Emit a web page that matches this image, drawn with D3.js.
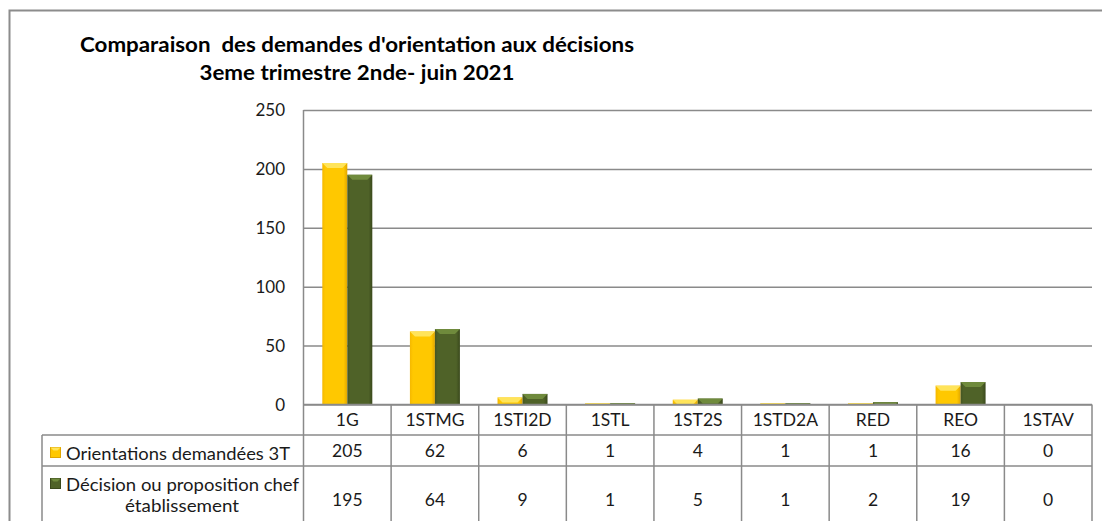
<!DOCTYPE html>
<html>
<head>
<meta charset="utf-8">
<script src="https://cdn.jsdelivr.net/npm/d3@7"></script>
<style>
  body { margin: 0; background: #fff; }
  svg { display: block; font-family: Lato, 'Open Sans', sans-serif; }
  .title { white-space: pre; }
</style>
</head>
<body>
<svg id="chart" width="1102" height="521"></svg>
<script>
const categories = ['1G', '1STMG', '1STI2D', '1STL', '1ST2S', '1STD2A', 'RED', 'REO', '1STAV'];
const seriesNames = ['Orientations demandées 3T', 'Décision ou proposition chef établissement'];
const demandes = [205, 62, 6, 1, 4, 1, 1, 16, 0];
const decisions = [195, 64, 9, 1, 5, 1, 2, 19, 0];
const yTicks = [0, 50, 100, 150, 200, 250];
const titleLines = ["Comparaison  des demandes d'orientation aux décisions", '3eme trimestre 2nde- juin 2021'];

const svg = d3.select('#chart');
const gridColor = '#8a8a8a';
const textColor = '#1a1a1a';

// plot area
const plotLeft = 303.5, plotRight = 1092, plotTop = 110, plotZero = 404.5;
const tableLeft = 42;
const rowLines = [435, 466];

const palette = [
  { face: '#ffc800', light: '#ffe45a', dark: '#e0a600', edge: '#f5b800' },
  { face: '#4f6228', light: '#6f8a3c', dark: '#3a491c', edge: '#445522' }
];

// outer frame
svg.append('rect')
  .attr('x', 9.5).attr('y', 10.5)
  .attr('width', 1120).attr('height', 600)
  .attr('fill', 'none').attr('stroke', '#8c8c8c').attr('stroke-width', 2);

// title
const titleWidths = [554, 315];
svg.append('text')
  .attr('class', 'title')
  .attr('text-anchor', 'middle')
  .attr('font-size', 20).attr('font-weight', 'bold').attr('fill', '#000')
  .selectAll('tspan').data(titleLines).enter().append('tspan')
  .attr('x', 357).attr('y', (d, i) => i === 0 ? 52 : 80)
  .attr('textLength', (d, i) => titleWidths[i])
  .attr('lengthAdjust', 'spacingAndGlyphs')
  .text(d => d);

const x = d3.scaleBand().domain(categories).range([plotLeft, plotRight]);
const y = d3.scaleLinear().domain([0, 250]).range([plotZero, plotTop]);
const inner = d3.scaleBand().domain([0, 1]).range([0, 50]);

// gridlines
svg.append('g')
  .attr('transform', `translate(${plotLeft},0)`)
  .call(d3.axisLeft(y).tickValues(yTicks).tickSize(-(plotRight - plotLeft)).tickFormat(''))
  .call(g => g.select('.domain').remove())
  .selectAll('line').attr('stroke', gridColor).attr('stroke-width', 1.5);

// y tick labels
svg.append('g').selectAll('text').data(yTicks).enter().append('text')
  .attr('x', 285).attr('y', d => y(d) + 6)
  .attr('text-anchor', 'end')
  .attr('font-size', 17).attr('fill', textColor)
  .text(d => d);

// gradients for the bevelled bars
const defs = svg.append('defs');
palette.forEach((p, i) => {
  const grad = defs.append('linearGradient').attr('id', 'face' + i)
    .attr('x1', 0).attr('x2', 1).attr('y1', 0).attr('y2', 0);
  grad.append('stop').attr('offset', '0%').attr('stop-color', p.edge);
  grad.append('stop').attr('offset', '12%').attr('stop-color', p.face);
  grad.append('stop').attr('offset', '85%').attr('stop-color', p.face);
  grad.append('stop').attr('offset', '100%').attr('stop-color', p.dark);
});

const series = [demandes, decisions];
series.forEach((vals, s) => {
  const p = palette[s];
  const g = svg.append('g');
  const bars = g.selectAll('g').data(vals.map((v, i) => ({ v, c: categories[i] })))
    .enter().append('g')
    .filter(d => d.v > 0);
  const bx = d => x(d.c) + (x.bandwidth() - 50) / 2 + inner(s);
  const bw = inner.bandwidth();
  bars.append('rect')
    .attr('x', bx).attr('y', d => y(d.v))
    .attr('width', bw).attr('height', d => plotZero - y(d.v))
    .attr('fill', `url(#face${s})`);
  // top bevel
  bars.append('path')
    .attr('d', d => {
      const x0 = bx(d), y0 = y(d.v);
      const h = Math.min(5, plotZero - y0);
      return `M${x0},${y0}L${x0 + bw},${y0}L${x0 + bw - h},${y0 + h}L${x0 + h},${y0 + h}Z`;
    })
    .attr('fill', p.light);
});

// data table lines
const lines = svg.append('g').attr('stroke', gridColor).attr('stroke-width', 1.5);
lines.append('line').attr('x1', plotLeft).attr('x2', plotLeft).attr('y1', plotTop).attr('y2', 521);
lines.selectAll('line.col').data(categories).enter().append('line')
  .attr('class', 'col')
  .attr('x1', d => x(d) + x.bandwidth()).attr('x2', d => x(d) + x.bandwidth())
  .attr('y1', plotZero).attr('y2', 521);
lines.append('line').attr('x1', plotLeft).attr('x2', plotRight).attr('y1', plotZero).attr('y2', plotZero);
lines.selectAll('line.row').data(rowLines).enter().append('line')
  .attr('class', 'row')
  .attr('x1', tableLeft).attr('x2', plotRight).attr('y1', d => d).attr('y2', d => d);
lines.append('line').attr('x1', tableLeft).attr('x2', tableLeft).attr('y1', rowLines[0]).attr('y2', 521);

// header labels
svg.append('g').selectAll('text').data(categories).enter().append('text')
  .attr('x', d => x(d) + x.bandwidth() / 2).attr('y', 426)
  .attr('text-anchor', 'middle').attr('font-size', 17.5).attr('fill', textColor)
  .text(d => d);

// values
const rowBaselines = [457, 506];
series.forEach((vals, s) => {
  svg.append('g').selectAll('text').data(vals).enter().append('text')
    .attr('x', (d, i) => x(categories[i]) + x.bandwidth() / 2)
    .attr('y', rowBaselines[s])
    .attr('text-anchor', 'middle').attr('font-size', 17.5).attr('fill', textColor)
    .text(d => d);
});

// legend cells
const legendKey = (s, kx, ky) => {
  const p = palette[s];
  svg.append('rect').attr('x', kx).attr('y', ky).attr('width', 10).attr('height', 10)
    .attr('fill', p.face).attr('stroke', p.dark).attr('stroke-width', 1);
  svg.append('path')
    .attr('d', `M${kx},${ky}L${kx + 10},${ky}L${kx + 7},${ky + 3}L${kx + 3},${ky + 3}Z`)
    .attr('fill', p.light);
};
legendKey(0, 50.5, 447.5);
svg.append('text').attr('x', 66).attr('y', 459.5)
  .attr('font-size', 18).attr('fill', textColor)
  .attr('textLength', 224).attr('lengthAdjust', 'spacingAndGlyphs')
  .text(seriesNames[0]);

legendKey(1, 50.5, 478.5);
svg.append('text').attr('x', 66).attr('y', 491)
  .attr('font-size', 18).attr('fill', textColor)
  .attr('textLength', 233).attr('lengthAdjust', 'spacingAndGlyphs')
  .text('Décision ou proposition chef');
svg.append('text').attr('x', 182).attr('y', 512)
  .attr('text-anchor', 'middle')
  .attr('font-size', 18).attr('fill', textColor)
  .attr('textLength', 114).attr('lengthAdjust', 'spacingAndGlyphs')
  .text('établissement');
</script>
</body>
</html>
